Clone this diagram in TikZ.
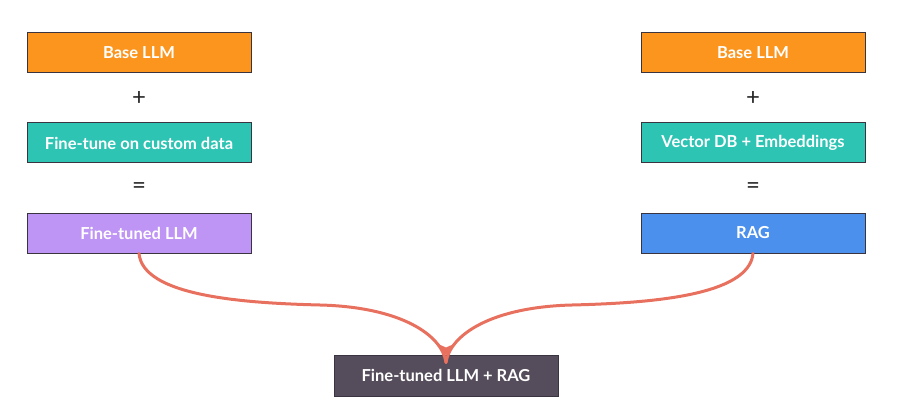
\documentclass[tikz,border=0pt]{standalone}
\usepackage{fontspec}
\setmainfont{Lato}
\usetikzlibrary{arrows.meta}
\definecolor{corange}{HTML}{FC951E}
\definecolor{cteal}{HTML}{2EC4B4}
\definecolor{cpurple}{HTML}{BE95F4}
\definecolor{cblue}{HTML}{4B90EC}
\definecolor{cdark}{HTML}{554D5B}
\definecolor{cedge}{HTML}{3A3440}
\definecolor{carrow}{HTML}{E8705E}
\tikzset{
  box/.style={draw=cedge, line width=1pt, minimum width=224pt, minimum height=40pt,
    inner sep=0pt, text=white, font=\fontsize{16.5}{19}\selectfont\bfseries},
  op/.style={inner sep=0pt, font=\fontsize{24}{26}\selectfont, text=black!85},
  link/.style={draw=carrow, line width=3pt, line cap=round}
}
\begin{document}
\begin{tikzpicture}[x=1pt,y=-1pt]
\useasboundingbox (0,0) rectangle (901,414);
\node[box, fill=corange] (l1) at (139,53) {Base LLM};
\node[op] (lp) at (139,99) {+};
\node[box, fill=cteal] (l2) at (139,143) {Fine-tune on custom data};
\node[op] (le) at (139,188) {=};
\node[box, fill=cpurple] (l3) at (139,233) {Fine-tuned LLM};
\node[box, fill=corange] (r1) at (753,53) {Base LLM};
\node[op] (rp) at (753,99) {+};
\node[box, fill=cteal] (r2) at (753,143) {Vector DB + Embeddings};
\node[op] (re) at (753,188) {=};
\node[box, fill=cblue] (r3) at (753,233) {RAG};
\node[box, fill=cdark, minimum height=41pt] (b) at (446,375.5) {Fine-tuned LLM + RAG};
\coordinate (lm) at (320,305);
\coordinate (rm) at (572,305);
\draw[link] (l3.south) .. controls +(4,42) and +(-80,-2) .. (lm)
  .. controls +(80,2) and +(-4,-28) .. ([yshift=-8pt]b.north);
\draw[link] (r3.south) .. controls +(-4,42) and +(80,-2) .. (rm)
  .. controls +(-80,2) and +(4,-28) .. ([yshift=-8pt]b.north);
\fill[carrow] ([yshift=-1pt]b.north) -- ++(-9,-12) -- ++(9,4) -- ++(9,-4) -- cycle;
\end{tikzpicture}
\end{document}
